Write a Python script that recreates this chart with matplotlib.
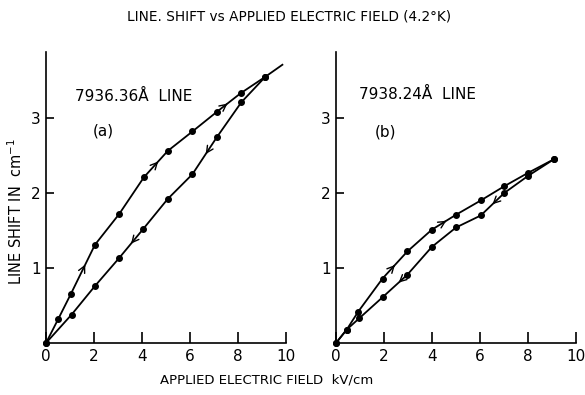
import numpy as np
import matplotlib
matplotlib.use('Agg')
import matplotlib.pyplot as plt

# panel (a): 7936.36 A line
a_up_x = [0, 0.51, 1.03, 2.04, 3.05, 4.08, 5.07, 6.10, 7.11, 8.11, 9.14]
a_up_y = [0, 0.32, 0.65, 1.31, 1.72, 2.21, 2.56, 2.82, 3.08, 3.33, 3.55]
a_dn_x = [9.14, 8.14, 7.11, 6.10, 5.07, 4.05, 3.04, 2.04, 1.07, 0]
a_dn_y = [3.55, 3.21, 2.74, 2.25, 1.92, 1.52, 1.13, 0.76, 0.38, 0]
a_tail_x = [9.14, 9.85]
a_tail_y = [3.55, 3.71]

# panel (b): 7938.24 A line
b_up_x = [0, 0.45, 0.93, 1.94, 2.97, 3.99, 5.00, 6.03, 7.01, 8.01, 9.08]
b_up_y = [0, 0.18, 0.42, 0.86, 1.22, 1.51, 1.71, 1.90, 2.09, 2.27, 2.45]
b_dn_x = [9.08, 8.01, 7.01, 6.03, 5.00, 3.99, 2.97, 1.94, 0.97, 0.45, 0]
b_dn_y = [2.45, 2.23, 2.00, 1.70, 1.54, 1.28, 0.91, 0.61, 0.33, 0.18, 0]

x_ticks = [0, 2, 4, 6, 8, 10]
y_ticks = [1, 2, 3]

# arrows: (segment index, fraction along segment)
a_up_arrows = [(2, 0.6), (5, 0.6), (8, 0.45)]
a_dn_arrows = [(2, 0.45), (5, 0.5)]
b_up_arrows = [(3, 0.5), (5, 0.6)]
b_dn_arrows = [(2, 0.5), (6, 0.35)]

plt.rcParams['font.family'] = 'DejaVu Sans'

fig = plt.figure(figsize=(5.85, 3.95), dpi=100)
ax_a = fig.add_axes([46/585, 52/395, 240/585, 291/395])
ax_b = fig.add_axes([336/585, 52/395, 240/585, 291/395])


def draw_arrows(ax, xs, ys, arrows):
    for i, t in arrows:
        x0, y0 = xs[i], ys[i]
        x1, y1 = xs[i + 1], ys[i + 1]
        px = x0 + t * (x1 - x0)
        py = y0 + t * (y1 - y0)
        qx = x0 + (t - 0.05) * (x1 - x0)
        qy = y0 + (t - 0.05) * (y1 - y0)
        ax.annotate('', xy=(px, py), xytext=(qx, qy),
                    arrowprops=dict(arrowstyle='->', lw=1.0, color='black',
                                    mutation_scale=12, shrinkA=0, shrinkB=0))


def setup(ax):
    ax.set_xlim(0, 10)
    ax.set_ylim(0, 3.88)
    ax.spines['top'].set_visible(False)
    ax.spines['right'].set_visible(False)
    ax.spines['left'].set_linewidth(1.2)
    ax.spines['bottom'].set_linewidth(1.2)
    ax.set_xticks(x_ticks)
    ax.set_yticks(y_ticks)
    ax.tick_params(axis='x', direction='in', length=8, width=1.2, labelsize=11, pad=4)
    ax.tick_params(axis='y', direction='in', length=6, width=1.2, labelsize=11, pad=4)
    ax.patch.set_visible(False)


for ax, (ux, uy, dx, dy, ua, da) in [
        (ax_a, (a_up_x, a_up_y, a_dn_x, a_dn_y, a_up_arrows, a_dn_arrows)),
        (ax_b, (b_up_x, b_up_y, b_dn_x, b_dn_y, b_up_arrows, b_dn_arrows))]:
    setup(ax)
    ax.plot(ux, uy, '-', color='black', lw=1.3, marker='o', ms=4, clip_on=False)
    ax.plot(dx, dy, '-', color='black', lw=1.3, marker='o', ms=4, clip_on=False)
    draw_arrows(ax, ux, uy, ua)
    draw_arrows(ax, dx, dy, da)

ax_a.plot(a_tail_x, a_tail_y, '-', color='black', lw=1.3, clip_on=False)

ax_a.text(1.2, 3.29, '7936.36\u00c5  LINE', fontsize=11, va='center', ha='left')
ax_a.text(1.96, 2.83, '(a)', fontsize=11, va='center', ha='left')
ax_b.text(0.96, 3.31, '7938.24\u00c5  LINE', fontsize=11, va='center', ha='left')
ax_b.text(1.63, 2.81, '(b)', fontsize=11, va='center', ha='left')

fig.text(289/585, 1 - 16/395, 'LINE. SHIFT vs APPLIED ELECTRIC FIELD (4.2\u00b0K)',
         ha='center', va='center', fontsize=9.8)
fig.text(267/585, 1 - 380/395, 'APPLIED ELECTRIC FIELD  kV/cm',
         ha='center', va='center', fontsize=9.5)
fig.text(16/585, 1 - 212/395, 'LINE SHIFT IN  cm$^{-1}$', rotation=90,
         ha='center', va='center', fontsize=10.5)

fig.savefig('out.png', dpi=100)
